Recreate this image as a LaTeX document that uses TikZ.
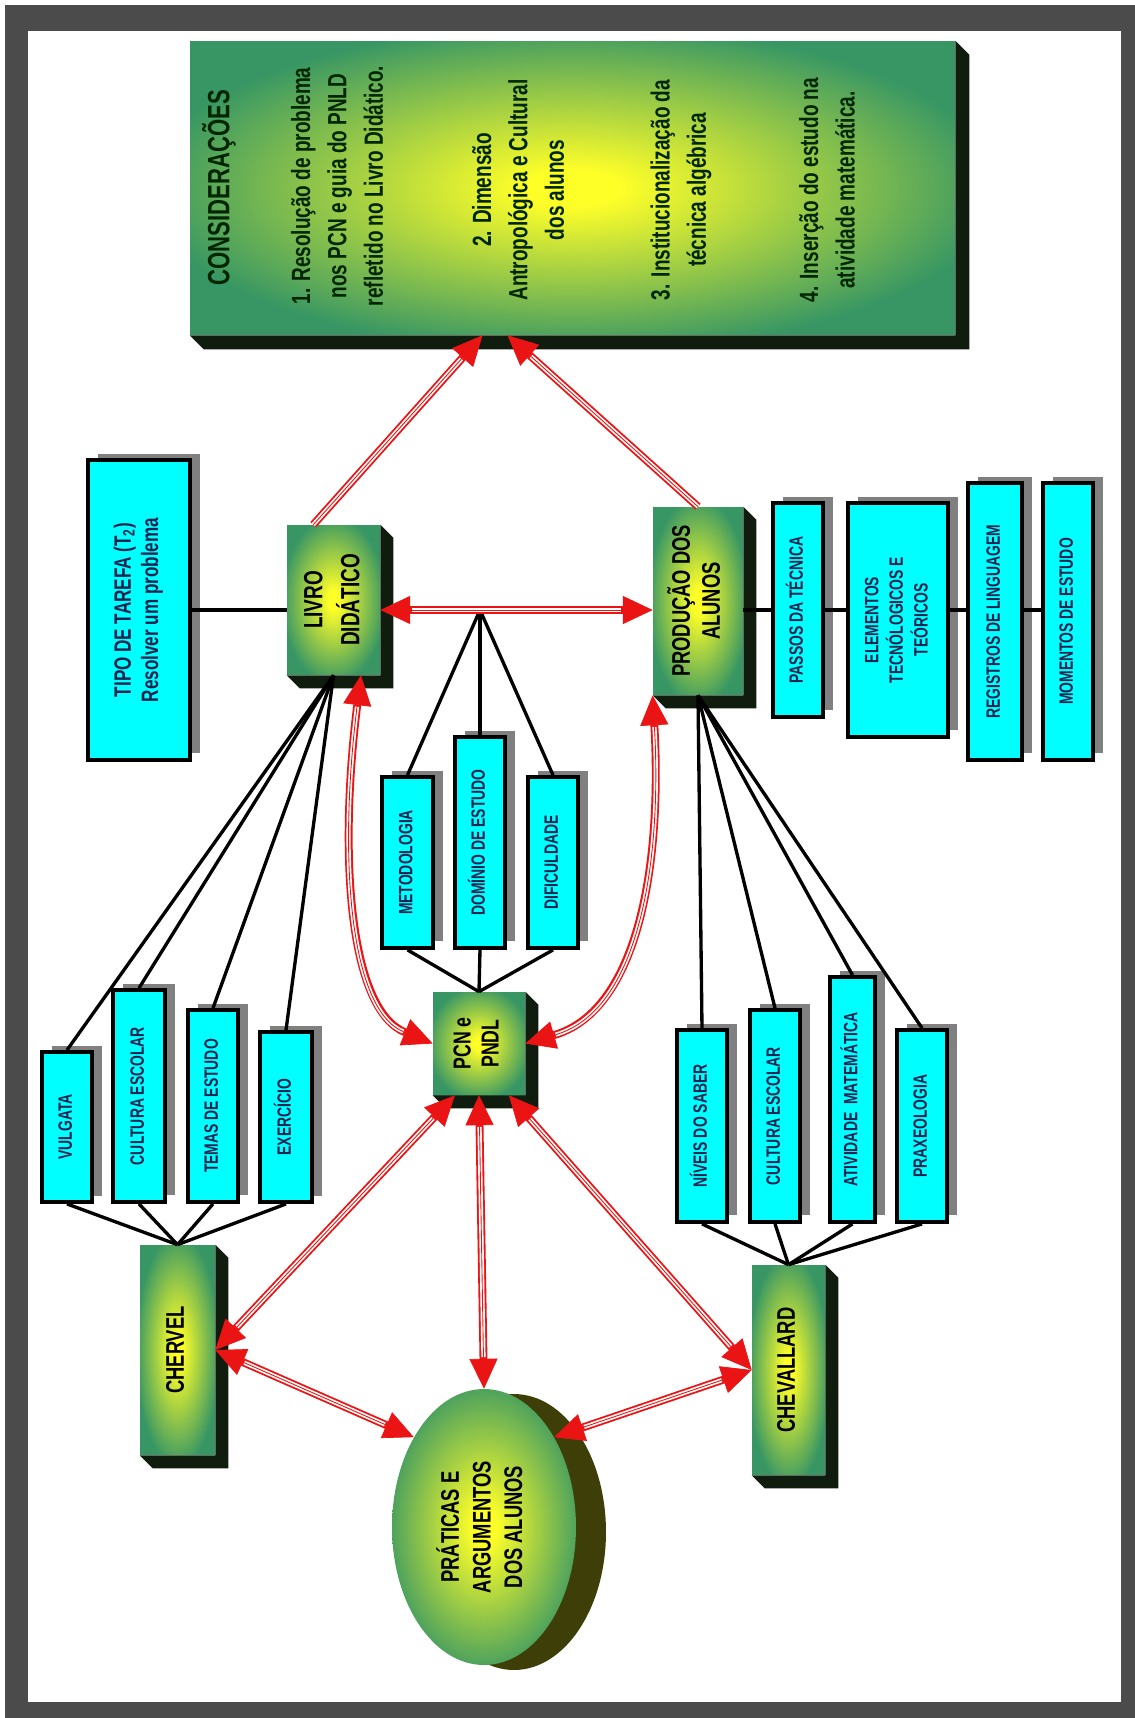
\documentclass[tikz,border=0pt]{standalone}
\usepackage{fontspec}
\usepackage{graphicx}
\usetikzlibrary{shapes.geometric}
\usetikzlibrary{arrows.meta}
\usetikzlibrary{calc}
\newfontfamily\narrowsans[FakeStretch=0.72]{Liberation Sans}

\definecolor{framegray}{RGB}{75,75,75}
\definecolor{boxcyan}{RGB}{0,255,255}
\definecolor{navytext}{RGB}{25,35,80}
\definecolor{shadowgray}{RGB}{128,128,128}
\definecolor{boxgreen}{RGB}{55,150,100}
\definecolor{glowyellow}{RGB}{255,255,40}
\definecolor{sidedark}{RGB}{16,28,14}
\definecolor{olivedark}{RGB}{62,62,8}
\definecolor{arrowred}{RGB}{235,20,20}

\pgfdeclareradialshading{glow}{\pgfpoint{0bp}{0bp}}{color(0bp)=(glowyellow); color(3bp)=(glowyellow); color(28bp)=(boxgreen); color(50bp)=(boxgreen)}

\newcommand{\uptext}[1]{\rotatebox{90}{\begin{tabular}{@{}c@{}}#1\end{tabular}}}

\begin{document}
\begin{tikzpicture}[x=0.02cm, y=-0.02cm,
    cyanbox/.style={draw=black, line width=2.2pt, fill=boxcyan, inner sep=0pt, text=navytext,
        font=\narrowsans\bfseries\fontsize{11}{14}\selectfont,
        preaction={fill=shadowgray, transform canvas={xshift=0.2cm, yshift=0.13cm}}},
    greenbox/.style={shade, shading=glow, inner sep=0pt, text=black,
        font=\narrowsans\bfseries\fontsize{14.5}{18}\selectfont},
    constext/.style={rotate=90, align=center, text=black!85!green,
        font=\narrowsans\bfseries\fontsize{15}{20.7}\selectfont},
    link/.style={line width=1.9pt, black},
    redone/.style={draw=arrowred, line width=4.5pt, -{Triangle[length=17pt,width=16pt,line width=0.4pt]},
        postaction={draw=white, line width=2.4pt, -, shorten >=18pt},
        postaction={draw=arrowred, line width=0.5pt, -, shorten >=18pt}},
    redtwo/.style={draw=arrowred, line width=4.5pt,
        {Triangle[length=17pt,width=16pt,line width=0.4pt]}-{Triangle[length=17pt,width=16pt,line width=0.4pt]},
        postaction={draw=white, line width=2.4pt, -, shorten >=18pt, shorten <=18pt},
        postaction={draw=arrowred, line width=0.5pt, -, shorten >=18pt, shorten <=18pt}}]

        % frame
        \fill[framegray] (5,5) rectangle (1135,1718);
        \fill[white] (28,31) rectangle (1121,1702);
        \useasboundingbox (0,0) rectangle (1135,1718);

        % considerations
        \node [greenbox, minimum width=15.3cm, minimum height=5.88cm] (cons) at (572.5,188) {};
        \fill[sidedark] (cons.north east) -- ++(14,14) -- ($(cons.south east)+(14,14)$) -- ($(cons.south west)+(14,14)$) -- (cons.south west) -- (cons.south east) -- cycle;
        \node [constext, font=\narrowsans\bfseries\fontsize{17.5}{21}\selectfont] (cons-h) at (219,188) {CONSIDERAÇÕES};
        \node [constext] (cons-a) at (337,186) {1. Resolução de problema\\nos PCN e guia do PNLD\\refletido no Livro Didático.};
        \node [constext] (cons-b) at (518,190) {2. Dimensão\\Antropológica e Cultural\\dos alunos};
        \node [constext] (cons-c) at (681,190) {3. Institucionalização da\\técnica algébrica};
        \node [constext] (cons-d) at (827,190) {4. Inserção do estudo na\\atividade matemática.};

        % main boxes
        \node [greenbox, minimum width=1.86cm, minimum height=3.0cm, font=\narrowsans\bfseries\fontsize{15}{21}\selectfont] (livro) at (333.5,600) {\uptext{LIVRO\\DIDÁTICO}};
        \node [greenbox, minimum width=1.8cm, minimum height=3.76cm, font=\narrowsans\bfseries\fontsize{14.5}{17}\selectfont] (producao) at (698,601) {\uptext{PRODUÇÃO DOS\\ALUNOS}};
        \node [greenbox, minimum width=1.84cm, minimum height=2.06cm, font=\narrowsans\bfseries\fontsize{14}{16}\selectfont] (pcn) at (479,1043.5) {\uptext{PCN e\\PNDL}};
        \node [greenbox, minimum width=1.5cm, minimum height=4.2cm] (chervel) at (177.5,1350) {\uptext{CHERVEL}};
        \node [greenbox, minimum width=1.46cm, minimum height=4.2cm] (chevallard) at (788.5,1370) {\uptext{CHEVALLARD}};
        \fill[olivedark] (514,1532) ellipse [x radius=1.84cm, y radius=2.76cm];
        \node [greenbox, ellipse, minimum width=3.68cm, minimum height=5.52cm] (praticas) at (484,1527) {\uptext{PRÁTICAS E\\ARGUMENTOS\\DOS ALUNOS}};

        \foreach \n in {livro,producao,pcn,chervel,chevallard}
        {
            \fill[sidedark] (\n.north east) -- ++(13,13) -- ($(\n.south east)+(13,13)$) -- ($(\n.south west)+(13,13)$) -- (\n.south west) -- (\n.south east) -- cycle;
        }

        % cyan boxes
        \node [cyanbox, minimum width=2.04cm, minimum height=6cm, font=\narrowsans\bfseries\fontsize{13.5}{15.5}\selectfont] (tipo) at (139,610) {\uptext{TIPO DE TAREFA (T\textsubscript{2})\\Resolver um problema}};

        \node [cyanbox, minimum width=1cm, minimum height=4.28cm] (passos) at (798,610) {\uptext{PASSOS DA TÉCNICA}};
        \node [cyanbox, minimum width=2cm, minimum height=4.68cm] (elementos) at (898,620) {\uptext{ELEMENTOS\\TECNÓLOGICOS E\\TEÓRICOS}};
        \node [cyanbox, minimum width=1.08cm, minimum height=5.54cm] (registros) at (995,621.5) {\uptext{REGISTROS DE LINGUAGEM}};
        \node [cyanbox, minimum width=1cm, minimum height=5.54cm] (momentos) at (1068,621.5) {\uptext{MOMENTOS DE ESTUDO}};

        \node [cyanbox, minimum width=1.02cm, minimum height=3.42cm] (metodologia) at (407.5,862.5) {\uptext{METODOLOGIA}};
        \node [cyanbox, minimum width=1cm, minimum height=4.22cm] (dominio) at (480,842.5) {\uptext{DOMÍNIO DE ESTUDO}};
        \node [cyanbox, minimum width=1cm, minimum height=3.42cm] (dificuldade) at (553,862.5) {\uptext{DIFICULDADE}};

        \node [cyanbox, minimum width=1cm, minimum height=3cm] (vulgata) at (67,1127) {\uptext{VULGATA}};
        \node [cyanbox, minimum width=1.04cm, minimum height=4.24cm] (culturaesq) at (139,1096) {\uptext{CULTURA ESCOLAR}};
        \node [cyanbox, minimum width=1cm, minimum height=3.84cm] (temas) at (213,1106) {\uptext{TEMAS DE ESTUDO}};
        \node [cyanbox, minimum width=1.04cm, minimum height=3.4cm] (exercicio) at (286,1117) {\uptext{EXERCÍCIO}};

        \node [cyanbox, minimum width=1cm, minimum height=3.84cm] (niveis) at (702,1126) {\uptext{NÍVEIS DO SABER}};
        \node [cyanbox, minimum width=1cm, minimum height=4.24cm] (culturadir) at (775,1116) {\uptext{CULTURA ESCOLAR}};
        \node [cyanbox, minimum width=0.9cm, minimum height=4.9cm] (atividade) at (852.5,1099.5) {\uptext{ATIVIDADE \ MATEMÁTICA}};
        \node [cyanbox, minimum width=1cm, minimum height=3.84cm] (praxeologia) at (922,1126) {\uptext{PRAXEOLOGIA}};

        % black links
        \coordinate (hub) at (dominio.north |- passos.east);
        \draw[link] (tipo.east) -- (tipo.east -| livro.west);
        \draw[link] (producao.east |- passos.west) -- (passos.west);
        \draw[link] (passos.east) -- (passos.east -| elementos.west);
        \draw[link] (elementos.east |- passos.east) -- (passos.east -| registros.west);
        \draw[link] (registros.east |- passos.east) -- (passos.east -| momentos.west);
        \foreach \b in {vulgata,culturaesq,temas,exercicio}
        {
            \draw[link] (livro.south) -- (\b.north);
            \draw[link] (\b.south) -- (chervel.north);
        }
        \foreach \b in {metodologia,dominio,dificuldade}
        {
            \draw[link] (hub) -- (\b.north);
            \draw[link] (\b.south) -- (pcn.north);
        }
        \foreach \b in {niveis,culturadir,atividade,praxeologia}
        {
            \draw[link] (producao.south) -- (\b.north);
            \draw[link] (\b.south) -- (chevallard.north);
        }

        % red arrows
        \draw[redone] (livro.105) -- ($(cons.south)+(-90,0)$);
        \draw[redone] (producao.north) -- ($(cons.south)+(-65,0)$);
        \draw[redtwo] (livro.east |- passos.east) -- (producao.west |- passos.east);
        \draw[redtwo] (livro.-70) .. controls (338,860) and (350,1010) .. (pcn.west);
        \draw[redtwo] (producao.south west) .. controls (662,860) and (640,1010) .. (pcn.east);
        \draw[redtwo] (pcn.-115) -- (chervel.east);
        \draw[redtwo] (pcn.south) -- (praticas.north);
        \draw[redtwo] (pcn.-60) -- (chevallard.west);
        \draw[redtwo] (chervel.east) -- (praticas.128);
        \draw[redtwo] (chevallard.west) -- (praticas.52);
\end{tikzpicture}
\end{document}
